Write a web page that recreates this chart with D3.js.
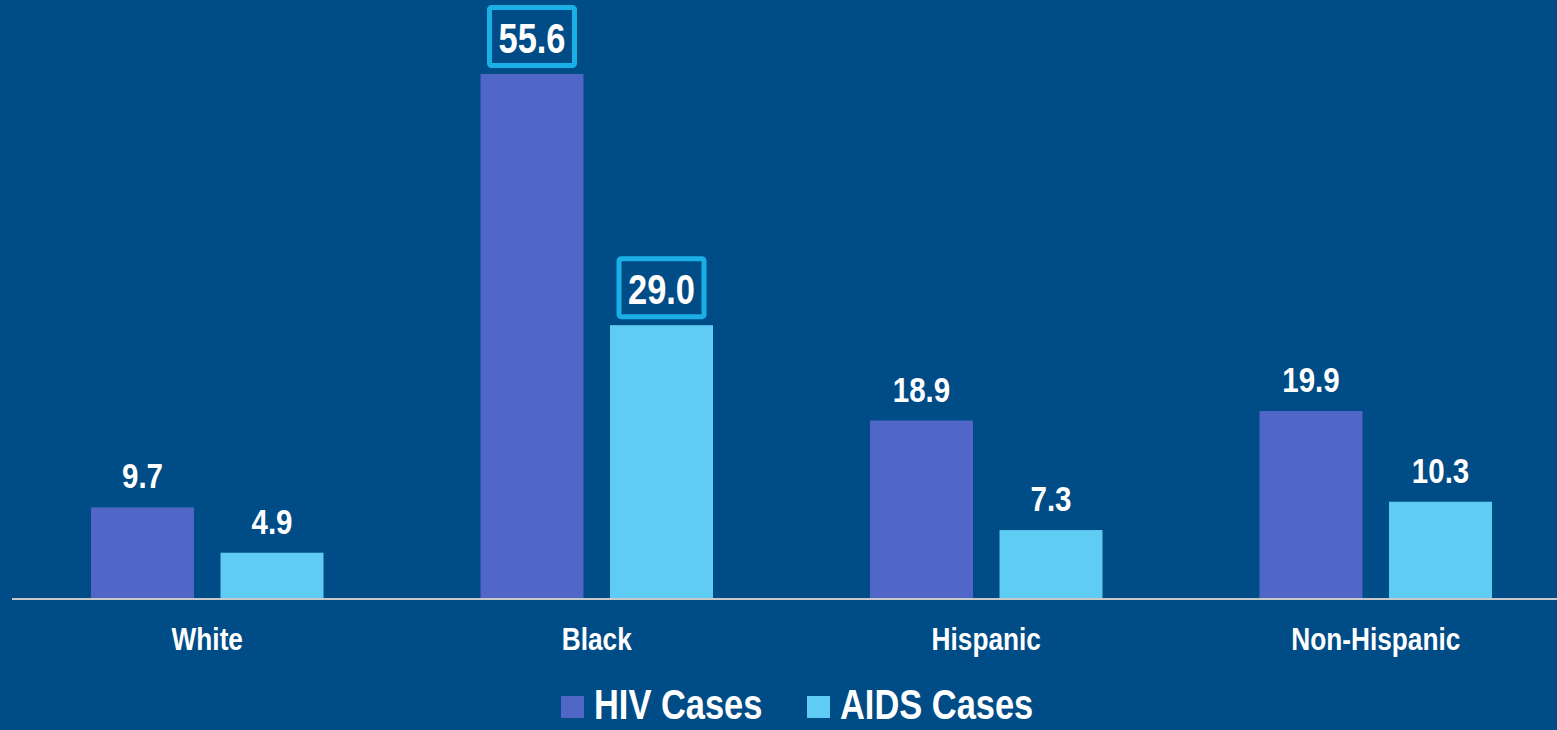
<!DOCTYPE html>
<meta charset="utf-8">
<style>
  body {
    margin: 0;
    background: #004c86;
    overflow: hidden;
  }

  svg text {
    font-family: "Liberation Sans", Arial, sans-serif;
    font-weight: bold;
    fill: #fff;
  }

  .axis path {
    stroke: #c9c9c9;
    stroke-width: 2px;
  }
</style>

<body>
  <svg width="1557" height="730"></svg>
</body>
<script src="https://cdnjs.cloudflare.com/ajax/libs/d3/7.8.5/d3.min.js"></script>
<script>
  // rates per 100,000
  var categories = ["White", "Black", "Hispanic", "Non-Hispanic"];
  var seriesNames = ["HIV Cases", "AIDS Cases"];
  var hivValues = [9.7, 55.6, 18.9, 19.9];
  var aidsValues = [4.9, 29.0, 7.3, 10.3];
  var valueLabels = [["9.7", "4.9"], ["55.6", "29.0"], ["18.9", "7.3"], ["19.9", "10.3"]];
  var highlighted = ["Black"];

  var colors = {"HIV Cases": "#5167c8", "AIDS Cases": "#5fcdf3"};
  var narrow = "scale(0.82,1)"; // no Arial Narrow here, squeeze Liberation Sans instead

  var svg = d3.select("svg");
  var baseY = 599;

  var x0 = d3.scaleBand().domain(categories).range([12.5, 1570.5]).paddingInner(0);
  var x1 = d3.scaleBand().domain(seriesNames)
    .range([78.5, 311]).paddingInner(0.205).paddingOuter(0);
  var y = d3.scaleLinear().domain([0, 55.6]).range([baseY, 74]);

  var data = categories.map(function (c, i) {
    return {
      cat: c,
      vals: [
        {name: seriesNames[0], v: hivValues[i], label: valueLabels[i][0]},
        {name: seriesNames[1], v: aidsValues[i], label: valueLabels[i][1]}
      ]
    };
  });

  var groups = svg.selectAll(".group")
    .data(data)
    .enter().append("g")
    .attr("class", "group")
    .attr("transform", function (d) { return "translate(" + x0(d.cat) + ",0)"; });

  groups.selectAll("rect.bar")
    .data(function (d) { return d.vals; })
    .enter().append("rect")
    .attr("class", "bar")
    .attr("x", function (d) { return x1(d.name); })
    .attr("y", function (d) { return y(d.v); })
    .attr("width", x1.bandwidth())
    .attr("height", function (d) { return baseY - y(d.v); })
    .attr("fill", function (d) { return colors[d.name]; });

  // value labels
  groups.each(function (gd) {
    var g = d3.select(this);
    var boxed = highlighted.indexOf(gd.cat) >= 0;
    gd.vals.forEach(function (d) {
      var cx = x1(d.name) + x1.bandwidth() / 2;
      var top = y(d.v);
      if (boxed) {
        g.append("rect")
          .attr("x", cx - 42.5)
          .attr("y", top - 66.5)
          .attr("width", 85)
          .attr("height", 58)
          .attr("rx", 2)
          .attr("fill", "none")
          .attr("stroke", "#1aafe6")
          .attr("stroke-width", 5);
      }
      g.append("g")
        .attr("transform", "translate(" + cx + "," + (top - (boxed ? 21 : 19)) + ")")
        .append("text")
        .attr("transform", narrow)
        .attr("text-anchor", "middle")
        .style("font-size", boxed ? "42px" : "36px")
        .text(d.label);
    });
  });

  // x axis
  var axis = svg.append("g")
    .attr("class", "axis")
    .attr("transform", "translate(0," + baseY + ")")
    .call(d3.axisBottom(x0).tickSize(0).tickPadding(28));
  axis.select(".domain").attr("d", "M12,0H1557");
  axis.selectAll("text")
    .style("font-size", "32px")
    .attr("fill", "#fff")
    .attr("transform", narrow);

  // legend
  var legendX = [561, 807];
  var legend = svg.selectAll(".legend")
    .data(seriesNames)
    .enter().append("g")
    .attr("class", "legend")
    .attr("transform", function (d, i) { return "translate(" + legendX[i] + ",696)"; });
  legend.append("rect")
    .attr("width", 23)
    .attr("height", 22)
    .attr("fill", function (d) { return colors[d]; });
  legend.append("g")
    .attr("transform", "translate(33,23)")
    .append("text")
    .attr("transform", narrow)
    .style("font-size", "42px")
    .text(function (d) { return d; });
</script>
